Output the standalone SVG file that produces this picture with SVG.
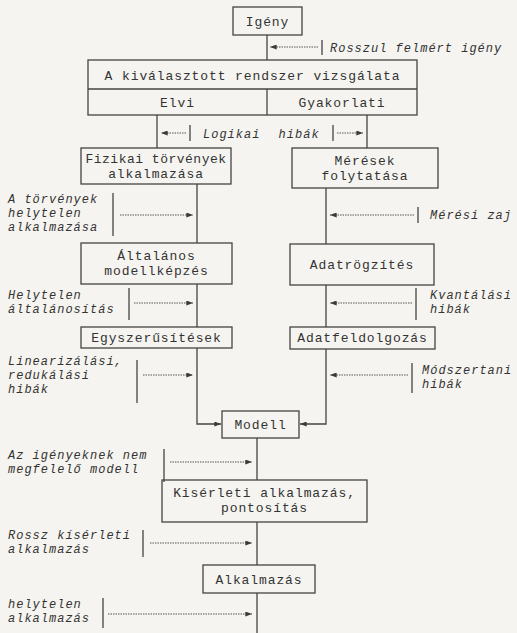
<svg xmlns="http://www.w3.org/2000/svg" width="517" height="633" viewBox="0 0 517 633">
<defs>
<marker id="ah" viewBox="0 0 8 6" refX="8" refY="3" markerWidth="7" markerHeight="5" markerUnits="userSpaceOnUse" orient="auto">
<path d="M0,0 L8,3 L0,6 Z" fill="#3a3a3a"/>
</marker>
<style>
.bg{fill:#f5f4f0}
.box{fill:none;stroke:#444;stroke-width:1.3}
.ln{fill:none;stroke:#444;stroke-width:1.3}
.dot{fill:none;stroke:#555;stroke-width:1;stroke-dasharray:1.5 1}
.bar{stroke:#444;stroke-width:1.3}
.t{font-family:"Liberation Mono","DejaVu Sans Mono",monospace;font-size:13px;fill:#333;letter-spacing:0.9px}
.c{text-anchor:middle}
.i{font-family:"Liberation Mono","DejaVu Sans Mono",monospace;font-size:12px;font-style:italic;fill:#333;letter-spacing:1px}
</style>
</defs>
<rect class="bg" x="0" y="0" width="517" height="633"/>

<g id="connectors">
<line class="ln" x1="267" y1="35" x2="267" y2="60"/>
<line class="ln" x1="157" y1="115" x2="157" y2="148"/>
<line class="ln" x1="367" y1="115" x2="367" y2="148"/>
<line class="ln" x1="197" y1="184" x2="197" y2="243"/>
<line class="ln" x1="326" y1="188" x2="326" y2="244"/>
<line class="ln" x1="197" y1="284" x2="197" y2="327"/>
<line class="ln" x1="326" y1="285" x2="326" y2="327"/>
<polyline class="ln" points="197,348 197,424 221,424" marker-end="url(#ah)"/>
<polyline class="ln" points="326,349 326,424 300,424" marker-end="url(#ah)"/>
<line class="ln" x1="257" y1="438" x2="257" y2="480"/>
<line class="ln" x1="257" y1="522" x2="257" y2="565"/>
<line class="ln" x1="257" y1="593" x2="257" y2="633"/>
<line class="dot" x1="318" y1="47" x2="270" y2="47" marker-end="url(#ah)"/>
<line class="dot" x1="186" y1="133" x2="161" y2="133" marker-end="url(#ah)"/>
<line class="dot" x1="337" y1="133" x2="363" y2="133" marker-end="url(#ah)"/>
<line class="dot" x1="120" y1="215" x2="193" y2="215" marker-end="url(#ah)"/>
<line class="dot" x1="414" y1="215" x2="330" y2="215" marker-end="url(#ah)"/>
<line class="dot" x1="134" y1="303" x2="193" y2="303" marker-end="url(#ah)"/>
<line class="dot" x1="412" y1="303" x2="330" y2="303" marker-end="url(#ah)"/>
<line class="dot" x1="143" y1="375" x2="193" y2="375" marker-end="url(#ah)"/>
<line class="dot" x1="408" y1="375" x2="330" y2="375" marker-end="url(#ah)"/>
<line class="dot" x1="170" y1="462" x2="252" y2="462" marker-end="url(#ah)"/>
<line class="dot" x1="150" y1="543" x2="252" y2="543" marker-end="url(#ah)"/>
<line class="dot" x1="108" y1="614" x2="252" y2="614" marker-end="url(#ah)"/>
</g>

<g id="igeny">
<rect class="box" x="233" y="7" width="69" height="28"/>
<text class="t c" x="267.5" y="26">Igény</text>
</g>

<g id="vizsgalat">
<rect class="box" x="88" y="60" width="329" height="55"/>
<line class="ln" x1="88" y1="89" x2="417" y2="89"/>
<line class="ln" x1="267" y1="89" x2="267" y2="115"/>
<text class="t c" x="252.5" y="80">A kiválasztott rendszer vizsgálata</text>
<text class="t c" x="177.5" y="107">Elvi</text>
<text class="t c" x="342" y="107">Gyakorlati</text>
</g>

<g id="fizikai">
<rect class="box" x="81" y="148" width="150" height="36"/>
<text class="t c" x="156" y="163" style="letter-spacing:0.5px">Fizikai törvények</text>
<text class="t c" x="156" y="178">alkalmazása</text>
</g>

<g id="meresek">
<rect class="box" x="292" y="148" width="146" height="40"/>
<text class="t c" x="365" y="165">Mérések</text>
<text class="t c" x="365" y="180">folytatása</text>
</g>

<g id="altalanos">
<rect class="box" x="81" y="243" width="151" height="41"/>
<text class="t c" x="156.5" y="260">Általános</text>
<text class="t c" x="156.5" y="275">modellképzés</text>
</g>

<g id="adatrogzites">
<rect class="box" x="290" y="244" width="144" height="41"/>
<text class="t c" x="362" y="269">Adatrögzítés</text>
</g>

<g id="egyszerusitesek">
<rect class="box" x="81" y="327" width="151" height="21"/>
<text class="t c" x="156.5" y="342">Egyszerűsítések</text>
</g>

<g id="adatfeldolgozas">
<rect class="box" x="290" y="327" width="145" height="22"/>
<text class="t c" x="362.5" y="342">Adatfeldolgozás</text>
</g>

<g id="modell">
<rect class="box" x="222" y="411" width="77" height="27"/>
<text class="t c" x="260.5" y="429">Modell</text>
</g>

<g id="kiserleti">
<rect class="box" x="162" y="480" width="205" height="42"/>
<text class="t c" x="264.5" y="497">Kisérleti alkalmazás,</text>
<text class="t c" x="264.5" y="512">pontosítás</text>
</g>

<g id="alkalmazas">
<rect class="box" x="203" y="565" width="112" height="28"/>
<text class="t c" x="259" y="584">Alkalmazás</text>
</g>

<g id="err-rosszul">
<line class="bar" x1="322" y1="40" x2="322" y2="55"/>
<text class="i" x="330" y="52">Rosszul felmért igény</text>
</g>

<g id="err-logikai">
<line class="bar" x1="190" y1="125" x2="190" y2="141"/>
<line class="bar" x1="333" y1="125" x2="333" y2="141"/>
<text class="i" x="203" y="138" word-spacing="10">Logikai hibák</text>
</g>

<g id="err-torvenyek">
<line class="bar" x1="113" y1="193" x2="113" y2="236"/>
<text class="i" x="8" y="203">A törvények</text>
<text class="i" x="8" y="217">helytelen</text>
<text class="i" x="8" y="231">alkalmazása</text>
</g>

<g id="err-meresi">
<line class="bar" x1="418" y1="207" x2="418" y2="223"/>
<text class="i" x="430" y="219">Mérési zaj</text>
</g>

<g id="err-altalanositas">
<line class="bar" x1="129" y1="288" x2="129" y2="320"/>
<text class="i" x="8" y="299">Helytelen</text>
<text class="i" x="8" y="313">általánosítás</text>
</g>

<g id="err-kvantalasi">
<line class="bar" x1="416" y1="288" x2="416" y2="320"/>
<text class="i" x="430" y="299">Kvantálási</text>
<text class="i" x="430" y="313">hibák</text>
</g>

<g id="err-linearizalasi">
<line class="bar" x1="137" y1="360" x2="137" y2="403"/>
<text class="i" x="8" y="365">Linearizálási,</text>
<text class="i" x="8" y="379">redukálási</text>
<text class="i" x="8" y="393">hibák</text>
</g>

<g id="err-modszertani">
<line class="bar" x1="412" y1="363" x2="412" y2="393"/>
<text class="i" x="422" y="374">Módszertani</text>
<text class="i" x="422" y="388">hibák</text>
</g>

<g id="err-igenyeknek">
<line class="bar" x1="164" y1="449" x2="164" y2="482"/>
<text class="i" x="8" y="459">Az igényeknek nem</text>
<text class="i" x="8" y="473">megfelelő modell</text>
</g>

<g id="err-rossz">
<line class="bar" x1="143" y1="530" x2="143" y2="557"/>
<text class="i" x="8" y="539">Rossz kísérleti</text>
<text class="i" x="8" y="553">alkalmazás</text>
</g>

<g id="err-helytelen">
<line class="bar" x1="103" y1="598" x2="103" y2="628"/>
<text class="i" x="8" y="608">helytelen</text>
<text class="i" x="8" y="622">alkalmazás</text>
</g>
</svg>
